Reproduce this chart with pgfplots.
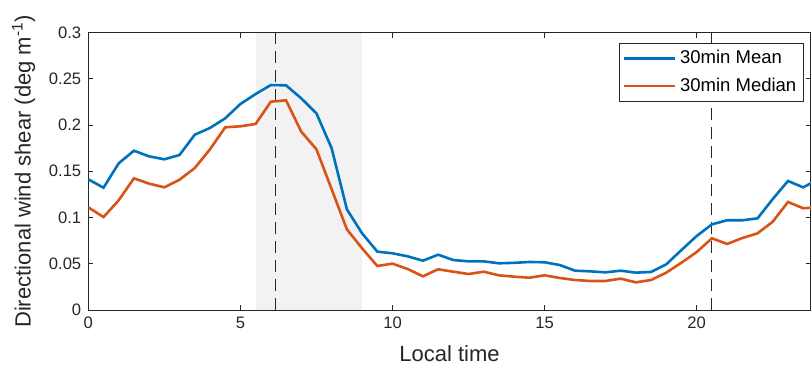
\documentclass[border=0pt]{standalone}
\usepackage{pgfplots}
\usepackage{pgfplotstable}
\pgfplotsset{compat=1.18}
\usepackage{fontspec}
\setmainfont{Liberation Sans}

\definecolor{meanblue}{rgb}{0,0.447,0.741}
\definecolor{medorange}{rgb}{0.850,0.325,0.098}
\definecolor{axgray}{rgb}{0.15,0.15,0.15}
\definecolor{shade}{rgb}{0.95,0.95,0.95}

% Directional wind shear, 30-minute bins over the day
\pgfplotstableread{
t    mean    median
0    0.1413  0.1110
0.5  0.1322  0.1005
1    0.1586  0.1186
1.5  0.1722  0.1423
2    0.1661  0.1366
2.5  0.1629  0.1326
3    0.1676  0.1409
3.5  0.1895  0.1535
4    0.1968  0.1737
4.5  0.2072  0.1975
5    0.2227  0.1986
5.5  0.2335  0.2011
6    0.2432  0.2252
6.5  0.2429  0.2267
7    0.2288  0.1928
7.5  0.2126  0.1737
8    0.1748  0.1305
8.5  0.1088  0.0872
9    0.0829  0.0667
9.5  0.0631  0.0476
10   0.0613  0.0501
10.5 0.0580  0.0443
11   0.0533  0.0364
11.5 0.0598  0.0440
12   0.0540  0.0414
12.5 0.0526  0.0389
13   0.0526  0.0414
13.5 0.0505  0.0375
14   0.0510  0.0360
14.5 0.0519  0.0349
15   0.0516  0.0375
15.5 0.0486  0.0346
16   0.0425  0.0324
16.5 0.0418  0.0314
17   0.0407  0.0314
17.5 0.0425  0.0339
18   0.0404  0.0299
18.5 0.0411  0.0324
19   0.0494  0.0404
19.5 0.0649  0.0512
20   0.0800  0.0627
20.5 0.0926  0.0775
21   0.0970  0.0714
21.5 0.0970  0.0778
22   0.0991  0.0829
22.5 0.1200  0.0955
23   0.1395  0.1168
23.5 0.1326  0.1100
24   0.1413  0.1110
}\sheartable

\begin{document}
\begin{tikzpicture}
\begin{axis}[
  scale only axis,
  width=361.25pt, height=138.75pt,
  xmin=0, xmax=23.75, ymin=0, ymax=0.3,
  xtick={0,5,10,15,20},
  ytick={0,0.05,0.1,0.15,0.2,0.25,0.3},
  yticklabels={0,0.05,0.1,0.15,0.2,0.25,0.3},
  /pgf/number format/assume math mode=true,
  tick align=inside,
  major tick length=2.5pt,
  axis line style={axgray, line width=0.5pt},
  tick style={axgray, line width=0.5pt},
  tick label style={font=\fontsize{8.3}{10}\selectfont, text=axgray},
  label style={font=\fontsize{11}{13}\selectfont, text=axgray},
  xlabel={Local time},
  xlabel style={yshift=-1.5pt},
  ylabel={Directional wind shear (deg m\textsuperscript{-1})},
  legend style={
    at={(rel axis cs:1,1)}, anchor=north east,
    xshift=-3.5pt, yshift=-5.25pt,
    draw=axgray, line width=0.5pt,
    font=\fontsize{9.25}{11}\selectfont,
    inner xsep=1.5pt, inner ysep=1.5pt,
    row sep=1.5pt,
    cells={anchor=west},
  },
  legend image code/.code={\draw[#1] (0pt,0pt) -- (25.5pt,0pt);},
  clip=true,
]
  % morning transition window
  \addplot[fill=shade, draw=none, forget plot]
    coordinates {(5.5,0) (9,0) (9,0.3) (5.5,0.3)} -- cycle;
  % sunrise and sunset
  \addplot[axgray, line width=0.5pt, dash pattern=on 6pt off 3.5pt, forget plot]
    coordinates {(6.17,0) (6.17,0.3)};
  \addplot[axgray, line width=0.5pt, dash pattern=on 6pt off 3.5pt, forget plot]
    coordinates {(20.5,0) (20.5,0.3)};

  \addplot[meanblue, line width=1.3pt] table[x=t, y=mean] {\sheartable};
  \addlegendentry{30min Mean}
  \addplot[medorange, line width=1.3pt] table[x=t, y=median] {\sheartable};
  \addlegendentry{30min Median}
\end{axis}
\pgfresetboundingbox
\useasboundingbox (-44.15pt,-30pt) rectangle (361.35pt,155pt);
\end{tikzpicture}
\end{document}
